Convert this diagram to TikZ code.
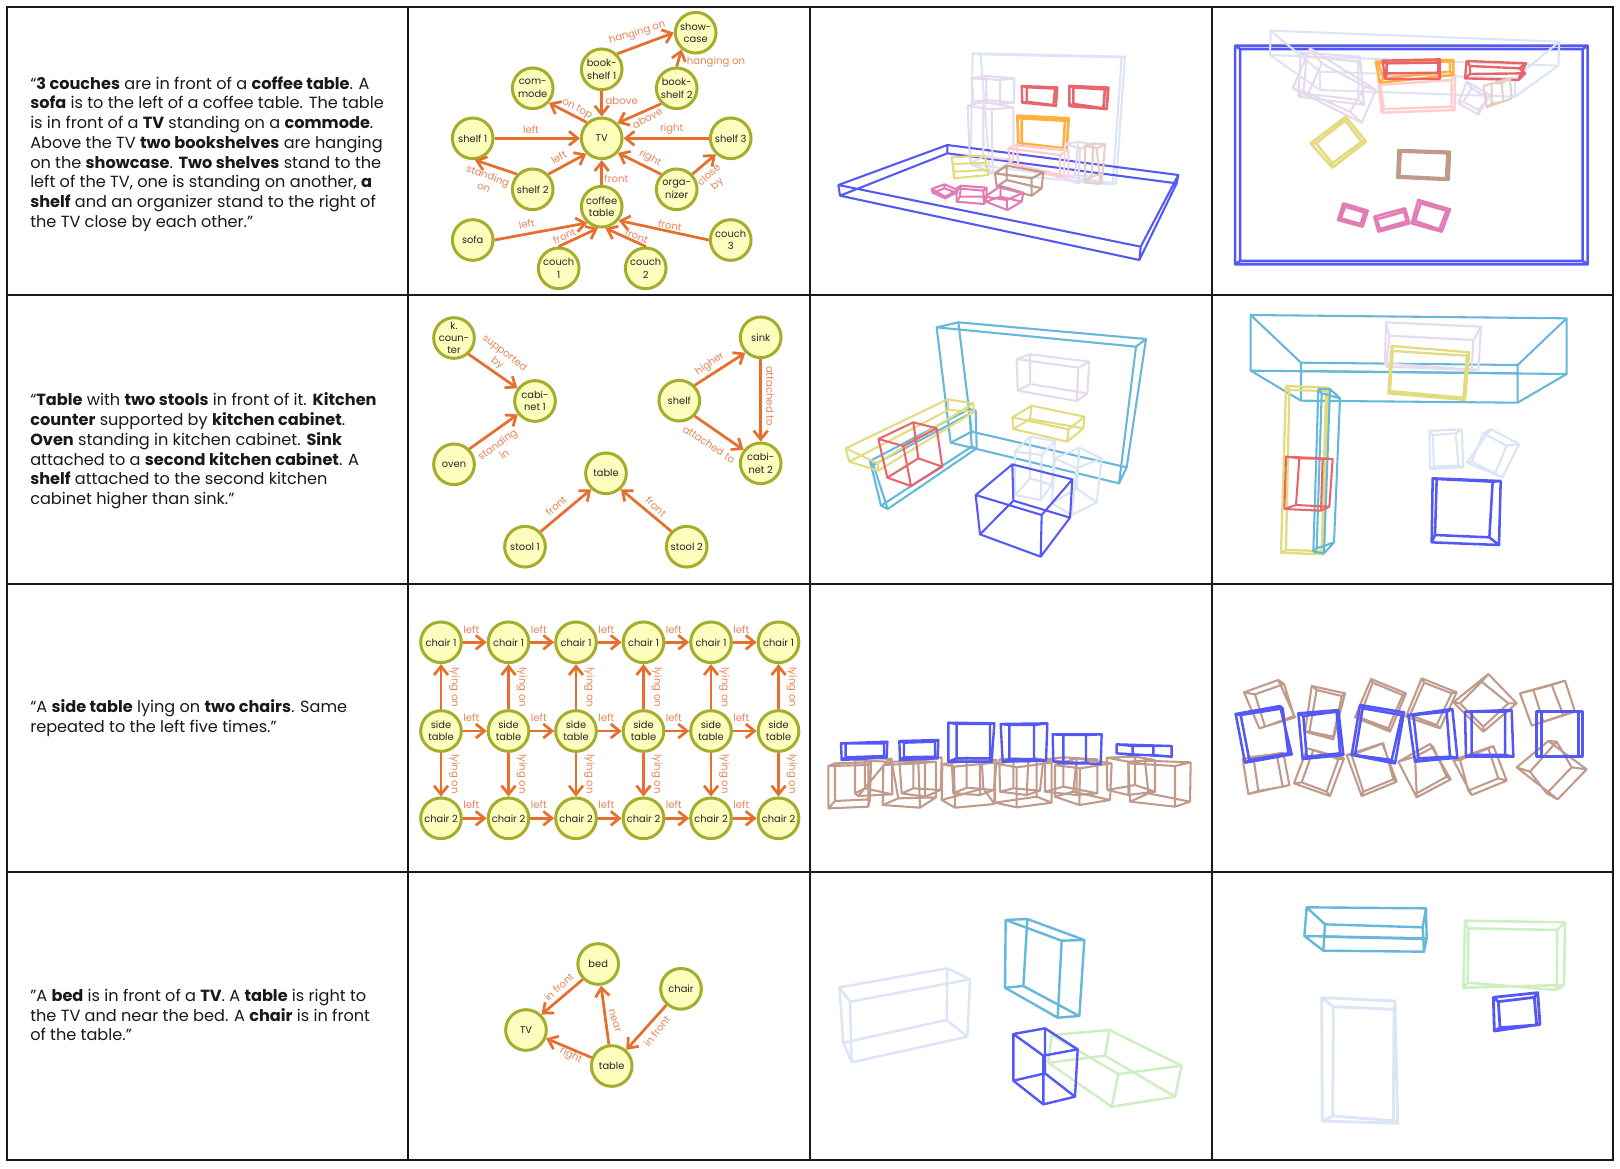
\documentclass[tikz,border=0pt]{standalone}
\usepackage{fontspec}
\setmainfont{Poppins}
\usetikzlibrary{arrows.meta}
\definecolor{flr}{HTML}{5459F5}\definecolor{teal2}{HTML}{66B8DA}\definecolor{lblue}{HTML}{DBE5F5}
\definecolor{yel}{HTML}{E3DC7E}\definecolor{pnk}{HTML}{E27CB5}\definecolor{tan2}{HTML}{C09B8C}
\definecolor{red2}{HTML}{E8666B}\definecolor{org}{HTML}{FFB040}\definecolor{spink}{HTML}{FFCDCD}
\definecolor{lil}{HTML}{E6DBEE}\definecolor{bei}{HTML}{E4CFC9}\definecolor{grn}{HTML}{CDEFC2}
\definecolor{nfill}{HTML}{FDFDBD}\definecolor{nline}{HTML}{A4AE2C}\definecolor{edge}{HTML}{E66F2E}\definecolor{elabc}{HTML}{EB8557}
\tikzset{
 gnode/.style={circle,draw=nline,fill=nfill,line width=2.25pt,minimum size=30.5pt,inner sep=0pt},
 glab/.style={align=center,font=\fontsize{7.4}{9.2}\selectfont,text=black!85,inner sep=0pt},
 garrow/.style={-{Straight Barb[length=6.5pt,width=10.5pt]},draw=edge,line width=2.05pt},
 elab/.style={align=center,font=\fontsize{7.6}{9}\selectfont,text=elabc,inner sep=0pt},
 para/.style={align=left,anchor=west,inner sep=0pt,font=\fontsize{12.1}{14.8}\selectfont,text=black!90},
 wf/.style={line width=1.55pt,line join=round},
 zoom/.style={x=0.25pt,y=-0.25pt},
 gridline/.style={draw=black!90,line width=1.3pt}
}
\newcount\elc
\newcommand\gn[4]{\node[gnode,label={[glab]center:{#4}}] (#1) at (#2,#3) {};}
\newcommand\el[4]{\global\advance\elc by 1 \node[elab,rotate=#3] (lab\the\elc) at (#1,#2) {#4};}
\newcommand\wb[9]{\draw[wf,#1] (#2)--(#3)--(#4)--(#5)--cycle (#6)--(#7)--(#8)--(#9)--cycle (#2)--(#6) (#3)--(#7) (#4)--(#8) (#5)--(#9);}
\begin{document}
\begin{tikzpicture}[x=0.75pt,y=-0.75pt]
\useasboundingbox (0,0) rectangle (1620,1168);
\fill[white] (0,0) rectangle (1620,1168);
% grid
\draw[gridline] (7,7) rectangle (1613,1160);
\foreach \gx in {408,810,1212} \draw[gridline] (\gx,7)--(\gx,1160);
\foreach \gy in {295,584,872} \draw[gridline] (7,\gy)--(1613,\gy);
% captions
\node[para] (t1) at (30,154) {“\textbf{3 couches} are in front of a \textbf{coffee table}. A\\\textbf{sofa} is to the left of a coffee table. The table\\is in front of a \textbf{TV} standing on a \textbf{commode}.\\Above the TV \textbf{two bookshelves} are hanging\\on the \textbf{showcase}. \textbf{Two shelves} stand to the\\left of the TV, one is standing on another, \textbf{a}\\\textbf{shelf} and an organizer stand to the right of\\the TV close by each other.”};
\node[para] (t2) at (30,451) {“\textbf{Table} with \textbf{two stools} in front of it. \textbf{Kitchen}\\\textbf{counter} supported by \textbf{kitchen cabinet}.\\\textbf{Oven} standing in kitchen cabinet. \textbf{Sink}\\attached to a \textbf{second kitchen cabinet}. A\\\textbf{shelf} attached to the second kitchen\\cabinet higher than sink.”};
\node[para] (t3) at (30,718) {“A \textbf{side table} lying on \textbf{two chairs}. Same\\repeated to the left five times.”};
\node[para] (t4) at (30,1015) {"A \textbf{bed} is in front of a \textbf{TV}. A \textbf{table} is right to\\the TV and near the bed. A \textbf{chair} is in front\\of the table."};
% graph 1
\gn{sc}{695.7}{32.7}{show-\\case}
\gn{bs1}{601.7}{69.3}{book-\\shelf 1}
\gn{bs2}{676.7}{88.3}{book-\\shelf 2}
\gn{com}{532.7}{88.3}{com-\\mode}
\gn{tv}{601.7}{138.3}{TV}
\gn{sh1}{472.7}{138.3}{shelf 1}
\gn{sh3}{730.7}{138.3}{shelf 3}
\gn{sh2}{532.7}{189.3}{shelf 2}
\gn{orga}{676.7}{189.3}{orga-\\nizer}
\gn{ct}{601.7}{206.7}{coffee\\table}
\gn{sofa}{472.7}{240}{sofa}
\gn{c1}{558.7}{268.3}{couch\\1}
\gn{c2}{645.7}{268.3}{couch\\2}
\gn{c3}{730.7}{240}{couch\\3}
\draw[garrow] (bs1.45)--(sc.180); \draw[garrow] (bs2.90)--(sc.230); \draw[garrow] (bs1.270)--(tv.90); \draw[garrow] (bs2.225)--(tv.44);
\draw[garrow] (tv.133)--(com.318); \draw[garrow] (sh1.0)--(tv.180); \draw[garrow] (sh3.180)--(tv.0); \draw[garrow] (sh2.44)--(tv.225);
\draw[garrow] (sh2.136)--(sh1.276); \draw[garrow] (orga.136)--(tv.318); \draw[garrow] (orga.44)--(sh3.227); \draw[garrow] (ct.90)--(tv.270);
\draw[garrow] (sofa.0)--(ct.228); \draw[garrow] (c1.90)--(ct.260); \draw[garrow] (c2.90)--(ct.280); \draw[garrow] (c3.180)--(ct.321);
\el{637.3}{33}{17}{hanging on}
\el{716}{62.3}{0}{hanging on}
\el{621.7}{100.3}{0}{above}
\el{577}{109}{-28}{on top}
\el{647.3}{118.3}{28}{above}
\el{531}{130}{0}{left}
\el{671.7}{129.3}{0}{right}
\el{558.7}{157.7}{30}{left}
\el{486}{181}{-20}{standing\\on}
\el{650}{158.3}{-28}{right}
\el{713.5}{180}{42}{close\\by}
\el{616.3}{179}{0}{front}
\el{526.7}{224}{10}{left}
\el{564.3}{236}{25}{front}
\el{636.7}{236}{-22}{front}
\el{670}{225.7}{-10}{front}
% graph 2
\gn{kc}{454}{338}{k.\\coun-\\ter}
\gn{cab1}{535}{401}{cabi-\\net 1}
\gn{oven}{454}{464.3}{oven}
\gn{sink}{760.7}{337.3}{sink}
\gn{shelfb}{679.3}{400.7}{shelf}
\gn{cab2}{760.7}{463.3}{cabi-\\net 2}
\gn{tb}{606}{473.3}{table}
\gn{st1}{525}{546.7}{stool 1}
\gn{st2}{686.7}{546.7}{stool 2}
\draw[garrow] (kc.312)--(cab1.144); \draw[garrow] (oven.45)--(cab1.218); \draw[garrow] (shelfb.45)--(sink.225); \draw[garrow] (sink.270)--(cab2.90);
\draw[garrow] (shelfb.315)--(cab2.142); \draw[garrow] (st1.44)--(tb.227); \draw[garrow] (st2.135)--(tb.313);
\el{500.7}{358.3}{-37}{supported\\by}
\el{500.7}{449}{35}{standing\\in}
\el{710}{364.3}{35}{higher}
\el{770}{396}{-90}{attached to}
\el{709}{444.3}{-33}{attached to}
\el{556}{505.7}{42}{front}
\el{656}{506.7}{-42}{front}
% graph 3
\foreach \i/\gx in {1/441,2/508.5,3/576,4/643.5,5/711,6/778.5}{
 \gn{a\i}{\gx}{642.3}{chair 1}
 \gn{b\i}{\gx}{731}{side\\table}
 \gn{d\i}{\gx}{818.3}{chair 2}
 \draw[garrow] (b\i)--(a\i);
 \draw[garrow] (b\i)--(d\i);
 \el{\gx+13.3}{687.3}{-90}{lying on}
 \el{\gx+13.3}{774}{-90}{lying on}
}
\foreach \i/\j/\gx in {1/2/471.3,2/3/538.8,3/4/606.3,4/5/673.8,5/6/741.3}{
 \draw[garrow] (a\i)--(a\j);
 \draw[garrow] (b\i)--(b\j);
 \draw[garrow] (d\i)--(d\j);
 \el{\gx}{629.3}{0}{left}
 \el{\gx}{718}{0}{left}
 \el{\gx}{805}{0}{left}
}
% graph 4
\gn{bd}{598.2}{964}{bed}
\gn{tvb}{526}{1030}{TV}
\gn{chb}{681}{988.8}{chair}
\gn{tbb}{611.7}{1066}{table}
\draw[garrow] (bd.225)--(tvb.45); \draw[garrow] (tbb)--(bd); \draw[garrow] (tbb)--(tvb); \draw[garrow] (chb)--(tbb);
\el{559}{987}{42}{in front}
\el{614.7}{1021}{-72}{near}
\el{571}{1056}{-27}{right}
\el{657}{1031}{52}{in front}
% row 1 perspective
\begin{scope}[shift={(810,0)},zoom]
\wb{lblue}{488,160}{945,170}{918,550}{482,492}{512,163}{935,172}{908,553}{540,520}
\wb{flr}{85,555}{412,435}{1105,525}{992,740}{90,587}{412,460}{1100,550}{988,780}
\wb{lil}{485,235}{528,228}{613,235}{570,240}{490,305}{530,300}{612,308}{570,312}
\wb{lil}{473,318}{520,305}{610,322}{545,328}{480,490}{520,470}{610,480}{548,520}
\wb{red2,line width=1.7pt}{635,258}{742,262}{738,318}{637,308}{650,262}{735,266}{730,315}{650,305}
\wb{red2,line width=2pt}{778,258}{895,263}{890,327}{778,318}{790,262}{885,268}{880,325}{790,312}
\wb{org,line width=2pt}{622,347}{776,355}{770,450}{625,435}{635,355}{765,362}{760,445}{635,430}
\wb{spink}{595,445}{620,435}{775,450}{750,465}{600,490}{625,495}{775,530}{750,532}
\wb{yel}{425,472}{525,467}{532,510}{432,515}{428,492}{528,488}{535,525}{432,535}
\wb{tan2}{555,520}{590,497}{700,517}{665,535}{560,560}{590,540}{695,565}{665,587}
\wb{lil}{765,432}{805,425}{850,435}{810,445}{762,535}{795,525}{845,530}{805,550}
\wb{bei}{825,437}{850,430}{885,433}{860,445}{825,548}{845,530}{878,520}{872,552}
\wb{pnk}{365,567}{403,553}{443,570}{405,590}{368,578}{403,565}{440,578}{405,595}
\wb{pnk}{440,565}{452,557}{530,563}{520,572}{440,605}{450,590}{530,590}{522,612}
\wb{pnk}{525,590}{572,558}{640,578}{590,600}{528,605}{572,590}{635,605}{592,630}
\end{scope}
% row 1 top
\begin{scope}[shift={(1210,0)},zoom]
\wb{flr,line width=1.9pt}{75,137}{1133,137}{1133,793}{75,793}{90,147}{1118,147}{1118,783}{90,783}
\wb{lblue}{182,92}{1048,125}{1045,197}{180,165}{330,215}{915,235}{915,290}{330,270}
\wb{lil}{272,158}{450,170}{462,315}{265,290}{290,170}{445,185}{445,300}{280,280}
\wb{lil}{300,145}{498,270}{455,368}{248,265}{335,190}{465,260}{420,335}{295,280}
\wb{spink,line width=1.8pt}{503,225}{735,225}{735,330}{515,338}{510,255}{725,240}{725,320}{522,327}
\wb{org,line width=1.8pt}{497,185}{730,180}{730,225}{510,248}{505,190}{720,185}{720,215}{520,235}
\wb{red2,line width=1.8pt}{518,182}{690,178}{690,237}{525,237}{530,190}{685,188}{685,218}{530,220}
\wb{red2,line width=1.8pt}{770,183}{948,190}{925,240}{765,235}{780,198}{928,205}{945,220}{780,222}
\wb{lil}{770,245}{840,285}{805,343}{745,310}{785,265}{835,295}{805,330}{760,305}
\wb{bei}{820,258}{900,235}{905,295}{830,322}{845,250}{875,250}{880,305}{845,310}
\wb{yel,line width=1.9pt}{407,350}{468,425}{367,503}{302,430}{405,362}{455,425}{367,490}{318,430}
\wb{tan2,line width=1.9pt}{565,450}{720,455}{716,540}{562,533}{572,455}{712,460}{708,535}{568,528}
\wb{pnk,line width=1.9pt}{400,610}{473,632}{458,680}{384,660}{405,620}{463,637}{452,672}{392,655}
\wb{pnk,line width=1.9pt}{493,650}{585,625}{598,670}{505,695}{500,658}{582,635}{590,664}{510,687}
\wb{pnk,line width=1.9pt}{625,600}{720,628}{695,695}{605,670}{632,610}{710,632}{688,688}{615,663}
\end{scope}
% row 2 perspective
\begin{scope}[shift={(810,295)},zoom]
\wb{teal2}{380,97}{978,155}{927,565}{422,443}{445,82}{1008,132}{950,517}{485,410}
\wb{teal2}{180,498}{478,342}{497,347}{190,510}{213,632}{485,455}{500,460}{233,642}
\wb{yel}{107,460}{413,313}{490,325}{203,505}{118,500}{415,345}{492,350}{205,527}
\wb{red2}{205,432}{310,382}{380,400}{280,453}{232,548}{325,490}{397,515}{303,573}
\wb{lil}{620,192}{660,178}{838,200}{805,218}{623,287}{660,267}{832,295}{800,318}
\wb{yel}{607,367}{665,332}{823,365}{775,403}{610,402}{660,372}{820,400}{772,440}
\wb{lblue}{615,470}{660,425}{735,438}{695,480}{615,600}{660,550}{725,570}{692,615}
\wb{lblue}{735,490}{808,458}{875,490}{800,520}{725,625}{800,580}{860,622}{785,660}
\wb{flr}{497,600}{607,508}{787,553}{695,660}{510,718}{610,617}{780,668}{692,785}
\end{scope}
% row 2 top
\begin{scope}[shift={(1210,295)},zoom]
\wb{teal2}{122,60}{1070,70}{1070,237}{122,227}{273,203}{923,210}{923,323}{273,317}
\draw[wf,teal2] (273,228)--(923,235);
\wb{lil}{528,82}{813,95}{805,225}{525,205}{538,122}{790,135}{785,225}{530,215}
\wb{yel,line width=1.7pt}{545,153}{778,172}{765,315}{535,295}{548,168}{770,182}{760,308}{540,288}
\wb{yel,line width=1.7pt}{228,273}{355,278}{340,778}{213,773}{238,285}{348,288}{335,768}{228,765}
\wb{teal2}{325,282}{360,282}{342,775}{310,770}{335,295}{390,310}{372,742}{320,760}
\wb{red2}{228,485}{338,490}{333,647}{223,642}{268,490}{368,492}{358,635}{258,630}
\wb{lblue}{658,408}{755,403}{760,517}{660,522}{668,420}{737,415}{745,512}{672,515}
\wb{lblue}{842,403}{928,447}{877,547}{770,503}{820,415}{890,452}{855,535}{785,500}
\wb{flr,line width=1.9pt}{668,550}{872,558}{867,750}{665,742}{680,552}{848,560}{838,727}{675,720}
\end{scope}
% row 3 perspective
\begin{scope}[shift={(810,660)},zoom]
\wb{tan2}{55,318}{75,310}{183,307}{175,315}{55,445}{75,423}{180,418}{175,440}
\wb{tan2}{135,300}{165,293}{245,297}{230,305}{135,400}{165,385}{247,403}{145,408}
\wb{tan2}{220,315}{245,305}{378,305}{325,310}{218,435}{265,415}{378,412}{330,443}
\wb{tan2}{268,300}{310,290}{395,292}{345,300}{275,400}{310,385}{392,390}{345,410}
\wb{tan2}{397,312}{515,298}{555,308}{432,320}{395,420}{520,385}{553,432}{435,443}
\wb{tan2}{425,300}{470,293}{560,300}{510,305}{430,400}{470,383}{552,390}{510,405}
\wb{tan2}{555,310}{620,322}{725,308}{680,295}{555,428}{620,442}{725,428}{680,410}
\wb{tan2}{568,298}{610,295}{700,298}{655,305}{570,395}{610,385}{690,392}{650,405}
\wb{tan2}{735,315}{800,295}{905,310}{810,325}{735,410}{790,395}{900,420}{808,435}
\wb{tan2}{705,298}{760,292}{862,298}{800,310}{705,395}{760,380}{862,400}{800,405}
\wb{tan2}{955,310}{1005,302}{1142,307}{1095,318}{960,425}{1015,400}{1140,425}{1095,440}
\wb{tan2}{890,293}{975,290}{1035,300}{955,305}{892,390}{975,375}{1035,395}{955,405}
\wb{flr,line width=1.8pt}{93,250}{232,245}{230,292}{95,300}{107,250}{222,250}{222,288}{107,292}
\wb{flr,line width=1.8pt}{268,243}{385,240}{383,295}{270,300}{282,248}{375,245}{375,290}{282,292}
\wb{flr,line width=1.8pt}{415,188}{553,190}{545,305}{415,305}{440,192}{540,192}{540,295}{440,295}
\wb{flr,line width=1.8pt}{572,192}{712,190}{708,302}{578,305}{598,195}{672,195}{672,298}{598,298}
\wb{flr,line width=1.8pt}{728,223}{875,223}{872,312}{730,305}{760,225}{828,225}{828,310}{760,310}
\wb{flr,line width=1.8pt}{920,253}{1085,258}{1085,290}{920,280}{968,258}{1030,258}{1030,285}{968,285}
\end{scope}
% row 3 top
\begin{scope}[shift={(1220,660)},zoom]
\wb{tan2}{72,97}{175,60}{225,172}{118,205}{105,103}{192,72}{222,168}{135,200}
\wb{tan2}{275,78}{375,100}{340,238}{255,215}{290,90}{365,108}{340,230}{268,215}
\wb{tan2}{453,57}{558,100}{510,215}{405,172}{458,68}{548,105}{505,205}{418,172}
\wb{tan2}{605,55}{710,97}{660,205}{558,170}{612,68}{695,100}{650,195}{570,165}
\wb{tan2}{805,42}{890,130}{790,215}{700,127}{785,65}{865,130}{790,200}{720,130}
\wb{tan2}{900,100}{1035,62}{1065,155}{935,197}{940,90}{995,75}{1030,165}{970,185}
\wb{tan2}{68,297}{190,278}{208,375}{85,402}{100,290}{170,282}{188,380}{115,393}
\wb{tan2}{262,265}{372,295}{330,408}{222,370}{280,270}{355,298}{320,395}{245,367}
\wb{tan2}{380,285}{487,250}{530,365}{425,408}{395,285}{490,250}{520,358}{430,395}
\wb{tan2}{535,305}{630,252}{692,358}{590,412}{585,290}{640,262}{680,350}{590,400}
\wb{tan2}{700,300}{820,258}{860,362}{755,405}{720,300}{805,265}{835,355}{745,392}
\wb{tan2}{890,322}{985,243}{1100,328}{1013,418}{930,335}{1010,245}{1055,322}{980,400}
\wb{flr,line width=1.9pt}{47,162}{180,138}{215,283}{75,308}{62,165}{188,145}{205,280}{88,300}
\wb{flr,line width=1.9pt}{235,160}{355,150}{370,285}{248,297}{250,168}{350,155}{360,280}{260,290}
\wb{flr,line width=1.9pt}{420,135}{552,157}{525,310}{395,285}{428,145}{545,165}{515,300}{405,285}
\wb{flr,line width=1.9pt}{565,165}{697,147}{712,293}{585,305}{580,165}{680,155}{690,290}{595,295}
\wb{flr,line width=1.9pt}{735,155}{875,150}{880,290}{738,290}{755,155}{855,155}{855,285}{755,285}
\wb{flr,line width=1.9pt}{950,155}{1087,155}{1087,290}{950,290}{965,155}{1075,155}{1075,290}{965,290}
\end{scope}
% row 4 perspective
\begin{scope}[shift={(810,890)},zoom]
\wb{lblue,line width=1.8pt}{88,292}{412,235}{480,268}{120,335}{100,458}{410,390}{472,440}{125,517}
\wb{teal2,line width=1.8pt}{587,90}{652,87}{823,150}{755,152}{585,293}{640,288}{808,378}{743,383}
\wb{grn,line width=1.8pt}{725,435}{898,420}{1115,527}{925,552}{715,518}{885,497}{1095,620}{905,650}
\wb{flr,line width=1.8pt}{610,432}{705,415}{803,478}{700,497}{610,572}{705,550}{795,620}{700,643}
\end{scope}
% row 4 top
\begin{scope}[shift={(1270,890)},zoom]
\wb{teal2,line width=1.8pt}{110,52}{468,55}{470,145}{103,138}{165,103}{458,112}{462,185}{160,182}
\draw[wf,teal2,line width=1.8pt] (160,140)--(462,147);
\wb{grn,line width=1.9pt}{585,92}{885,97}{882,285}{580,293}{595,115}{862,120}{860,300}{593,278}
\wb{flr,line width=2.1pt}{670,322}{803,308}{810,403}{673,423}{685,335}{793,322}{800,405}{690,413}
\wb{lblue,line width=2.1pt}{155,323}{375,333}{383,700}{157,693}{190,350}{372,358}{370,692}{188,678}
\end{scope}
\end{tikzpicture}
\end{document}
